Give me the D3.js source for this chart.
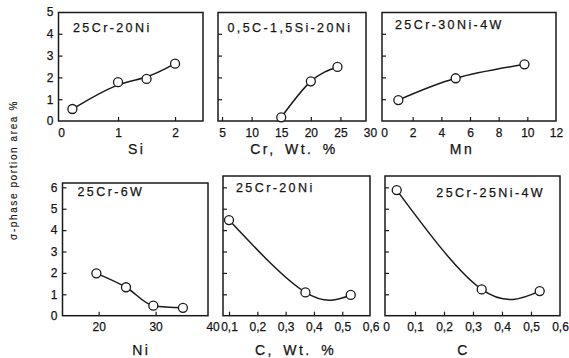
<!DOCTYPE html>
<html>
<head>
<meta charset="utf-8">
<script src="https://cdn.jsdelivr.net/npm/d3@7/dist/d3.min.js"></script>
<style>
  html, body { margin: 0; padding: 0; background: #fff; }
  svg { display: block; }
  text { font-family: "Liberation Sans", Arial, sans-serif; fill: #151515; stroke: #151515; stroke-width: 0.25px; }
  .title { font-size: 12.5px; letter-spacing: 2.4px; }
  .xlabel { font-size: 14px; letter-spacing: 2.5px; word-spacing: 3px; }
  .tick text { font-size: 12px; }
</style>
</head>
<body>
<div id="chart"></div>
<script>
// data
const siX = [0.2, 1.0, 1.5, 2.0];
const siY = [0.55, 1.78, 1.93, 2.63];
const crX = [15, 20, 24.5];
const crY = [0.17, 1.82, 2.48];
const mnX = [1, 5, 9.8];
const mnY = [0.96, 1.96, 2.6];
const niX = [19.6, 24.8, 29.6, 34.8];
const niY = [1.98, 1.33, 0.47, 0.37];
const cX = [0.1, 0.37, 0.53];
const cY = [4.47, 1.09, 0.97];
const c2X = [0.037, 0.33, 0.53];
const c2Y = [5.87, 1.23, 1.15];

const siTicks = [0, 1, 2];
const crTicks = [5, 10, 15, 20, 25, 30];
const mnTicks = [0, 2, 4, 6, 8, 10, 12];
const niTicks = [20, 30, 40];
const cTicks = [0.1, 0.2, 0.3, 0.4, 0.5, 0.6];
const c2Ticks = [0, 0.1, 0.2, 0.3, 0.4, 0.5, 0.6];
const yTicksTop = [0, 1, 2, 3, 4, 5];
const yTicksBottom = [0, 1, 2, 3, 4, 5, 6];

const titles = ["25Cr-20Ni", "0,5C-1,5Si-20Ni", "25Cr-30Ni-4W", "25Cr-6W", "25Cr-20Ni", "25Cr-25Ni-4W"];
const xLabels = ["Si", "Cr,  Wt. %", "Mn", "Ni", "C,  Wt. %", "C"];
const yTitle = "\u03c3-phase portion area %";

const width = 569, height = 358;

// layout: box [left, top, right, bottom], x domain at box edges
const panels = [
  { xs: siX, ys: siY, xt: siTicks, box: [58.5, 12.5, 203, 121], xDom: [-0.044, 2.49], row: 0, yLab: true, tx: 14.5, ty: 19.5, lx: 6, curve: d3.curveBasis },
  { xs: crX, ys: crY, xt: crTicks, box: [218, 12.5, 366, 121], xDom: [4.32, 29.32], row: 0, tx: 9.5, ty: 19.5, lx: 2 },
  { xs: mnX, ys: mnY, xt: mnTicks, box: [382, 12.5, 556, 121], xDom: [-0.14, 12.0], row: 0, tx: 13, ty: 16, lx: -7 },
  { xs: niX, ys: niY, xt: niTicks, box: [62.5, 183, 208, 315.7], xDom: [13.65, 39.2], row: 1, yLab: true, tx: 15, ty: 13, lx: 6, curve: d3.curveMonotoneX },
  { xs: cX, ys: cY, xt: cTicks, box: [223, 176, 370, 315.7], xDom: [0.0788, 0.598], row: 1, tx: 13, ty: 16, lx: -1 },
  { xs: c2X, ys: c2Y, xt: c2Ticks, box: [385, 176, 560, 315.7], xDom: [-0.0034, 0.6], row: 1, tx: -15, ty: 21, right: true, lx: -9 }
];

const rows = [
  { dom: [0, 5], range: [121, 12], ticks: yTicksTop, labelY: 153.5 },
  { dom: [0, 6.53], range: [315.7, 176], ticks: yTicksBottom, labelY: 355 }
];

const fmt = v => String(v).replace(".", ",");

const svg = d3.select("#chart").append("svg")
  .attr("width", width)
  .attr("height", height);

svg.append("rect").attr("width", width).attr("height", height).attr("fill", "#fff");

panels.forEach((p, i) => {
  const [l, t, r, b] = p.box;
  const row = rows[p.row];
  const x = d3.scaleLinear().domain(p.xDom).range([l, r]);
  const y = d3.scaleLinear().domain(row.dom).range(row.range);
  const g = svg.append("g");

  // x axis, ticks pointing inward
  const xa = g.append("g")
    .attr("transform", `translate(0,${b})`)
    .call(d3.axisBottom(x).tickValues(p.xt).tickFormat(fmt)
      .tickSizeInner(-4).tickSizeOuter(0).tickPadding(7));
  xa.select(".domain").remove();
  xa.selectAll(".tick line")
    .attr("stroke", "#1a1a1a").attr("stroke-width", 1.2)
    .attr("display", d => (x(d) < l + 4 || x(d) > r - 4) ? "none" : null);

  // y axis
  const yVals = p.yLab ? row.ticks : row.ticks.slice(1);
  const ya = g.append("g")
    .attr("transform", `translate(${l},0)`)
    .call(d3.axisLeft(y).tickValues(yVals).tickFormat(p.yLab ? fmt : "")
      .tickSizeInner(-4).tickSizeOuter(0).tickPadding(5));
  ya.select(".domain").remove();
  ya.selectAll(".tick line")
    .attr("stroke", "#1a1a1a").attr("stroke-width", 1.2)
    .attr("display", d => (y(d) > b - 4 || y(d) < t + 4) ? "none" : null);

  g.append("rect")
    .attr("x", l).attr("y", t)
    .attr("width", r - l).attr("height", b - t)
    .attr("fill", "none").attr("stroke", "#1a1a1a").attr("stroke-width", 1.5);

  g.append("text")
    .attr("class", "title")
    .attr("x", p.right ? r + p.tx : l + p.tx)
    .attr("y", t + p.ty)
    .attr("text-anchor", p.right ? "end" : "start")
    .text(titles[i]);

  g.append("text")
    .attr("class", "xlabel")
    .attr("x", (l + r) / 2 + p.lx)
    .attr("y", row.labelY)
    .attr("text-anchor", "middle")
    .text(xLabels[i]);

  const pts = p.xs.map((v, k) => [x(v), y(p.ys[k])]);
  g.append("path")
    .attr("d", d3.line().curve(p.curve || d3.curveNatural)(pts))
    .attr("fill", "none")
    .attr("stroke", "#1a1a1a")
    .attr("stroke-width", 1.5);

  g.selectAll("circle")
    .data(pts)
    .enter()
    .append("circle")
    .attr("cx", d => d[0])
    .attr("cy", d => d[1])
    .attr("r", 4.5)
    .attr("fill", "#fff")
    .attr("stroke", "#1a1a1a")
    .attr("stroke-width", 1.3);
});

svg.append("text")
  .attr("transform", "translate(17,170) rotate(-90)")
  .attr("text-anchor", "middle")
  .style("font-size", "10px")
  .style("letter-spacing", "1.6px")
  .style("stroke-width", "0.15px")
  .text(yTitle);
</script>
</body>
</html>
